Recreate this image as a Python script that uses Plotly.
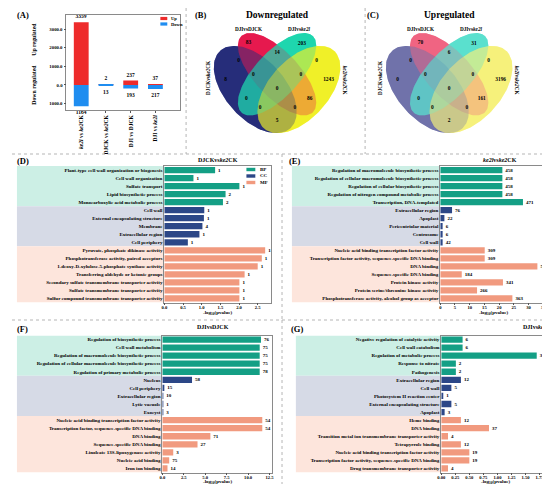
import numpy as np
import plotly.graph_objects as go

W, H = 550, 484
FONT = 'Liberation Serif'

# ---------------- data ----------------
# (A) number of DEGs
deg_groups = ['<i>ke2l</i> vs <i>ke2</i>CK', 'DJCK vs <i>ke2</i>CK', 'DJI vs DJCK', 'DJI vs <i>ke2l</i>']
deg_up = [3359, 2, 237, 37]
deg_down = [1134, 13, 193, 217]

# (B)/(C) venn
venn_sets = ['DJCKvs<i>ke2</i>CK', 'DJIvsDJCK', 'DJIvs<i>ke2l</i>', '<i>ke2l</i>vs<i>ke2</i>CK']
venn_regions = ['A', 'B', 'C', 'D', 'AB', 'BC', 'CD', 'ABC', 'BCD', 'ABCD', 'AC', 'BD', 'ACD', 'ABD', 'AD']
venn_down = [8, 83, 203, 1243, 0, 14, 0, 0, 0, 0, 0, 86, 0, 0, 5]
venn_up = [0, 70, 31, 3196, 0, 6, 0, 0, 0, 0, 0, 161, 0, 0, 2]

# (D)-(G) GO enrichment, 5 BP / 5 CC / 7 MF terms each
go_groups = ['BP'] * 5 + ['CC'] * 5 + ['MF'] * 7

d_terms = ['Plant-type cell wall organization or biogenesis', 'Cell wall organization', 'Sulfate transport',
           'Lipid biosynthetic process', 'Monocarboxylic acid metabolic process',
           'Cell wall', 'External encapsulating structure', 'Membrane', 'Extracellular region', 'Cell periphery',
           'Pyruvate, phosphate dikinase activity', 'Phosphotransferase activity, paired acceptors',
           '1-deoxy-D-xylulose-5-phosphate synthase activity', 'Transferring aldehyde or ketonic groups',
           'Secondary sulfate transmembrane transporter activity', 'Sulfate transmembrane transporter activity',
           'Sulfur compound transmembrane transporter activity']
d_values = [1.36, 0.78, 2.01, 1.64, 1.57, 1.07, 1.06, 1.02, 0.94, 0.63, 2.70, 2.61, 2.50, 2.15, 2.01, 2.01, 2.01]
d_counts = [1, 1, 1, 2, 2, 1, 1, 4, 1, 1, 1, 1, 1, 1, 1, 1, 1]

e_terms = ['Regulation of macromolecule biosynthetic process',
           'Regulation of cellular macromolecule biosynthetic process',
           'Regulation of cellular biosynthetic process', 'Regulation of nitrogen compound metabolic process',
           'Transcription, DNA-templated',
           'Extracellular region', 'Apoplast', 'Pericentriolar material', 'Centrosome', 'Cell wall',
           'Nucleic acid binding transcription factor activity',
           'Transcription factor activity, sequence-specific DNA binding', 'DNA binding',
           'Sequence-specific DNA binding', 'Protein kinase activity', 'Protein serine/threonine kinase activity',
           'Phosphotransferase activity, alcohol group as acceptor']
e_values = [21.1, 21.1, 21.1, 21.1, 28.1, 4.0, 1.4, 0.8, 0.8, 0.8, 15.1, 15.1, 33.0, 7.3, 21.3, 12.5, 24.5]
e_counts = [458, 458, 458, 458, 471, 76, 22, 6, 6, 42, 309, 309, 540, 184, 341, 266, 363]

f_terms = ['Regulation of biosynthetic process', 'Cell wall metabolism',
           'Regulation of macromolecule biosynthetic process',
           'Regulation of cellular macromolecule biosynthetic process', 'Regulation of primary metabolic process',
           'Nucleus', 'Cell periphery', 'Extracellular region', 'Lytic vacuole', 'Exocyst',
           'Nucleic acid binding transcription factor activity', 'Transcription factor, sequence-specific DNA binding',
           'DNA binding', 'Sequence-specific DNA binding', 'Linoleate 13S-lipoxygenase activity',
           'Nucleic acid binding', 'Iron ion binding']
f_values = [11.5, 11.35, 11.35, 11.35, 11.35, 3.46, 0.12, 0.08, 0.08, 0.08, 11.65, 11.65, 5.6, 4.1, 1.27, 0.8, 0.6]
f_counts = [76, 75, 75, 75, 78, 58, 15, 10, 1, 3, 54, 54, 71, 27, 3, 75, 14]

g_terms = ['Negative regulation of catalytic activity', 'Cell wall catabolism', 'Regulation of metabolic process',
           'Response to nitrate', 'Pathogenesis',
           'Extracellular region', 'Cell wall', 'Photosystem II reaction center', 'External encapsulating structure',
           'Apoplast', 'Heme binding', 'DNA binding', 'Transition metal ion transmembrane transporter activity',
           'Tetrapyrrole binding', 'Nucleic acid binding transcription factor activity',
           'Transcription factor activity, sequence-specific DNA binding', 'Drug transmembrane transporter activity']
g_values = [0.38, 0.38, 1.70, 0.26, 0.26, 0.35, 0.18, 0.02, 0.18, 0.06, 0.35, 0.85, 0.12, 0.35, 0.50, 0.50, 0.12]
g_counts = [6, 6, 34, 2, 2, 12, 5, 1, 5, 3, 12, 37, 4, 12, 19, 19, 4]

# ---------------- style ----------------
RED, BLUE = '#ee2b2b', '#1f8df0'
GO_COLORS = {'BP': '#149f85', 'CC': '#2c4787', 'MF': '#f19a7f'}
GO_BANDS = {'BP': '#ccefe5', 'CC': '#d6dae6', 'MF': '#fde5dc'}
VENN_DOWN_COLORS = [(38, 45, 122), (230, 25, 78), (30, 214, 174), (240, 240, 40)]
VENN_UP_COLORS = [(112, 114, 170), (240, 100, 130), (90, 224, 206), (246, 242, 124)]


def px_x(v):
    return v / W


def px_y(v):
    return 1 - v / H


def bold(size, color='black'):
    return dict(family=FONT, size=size, color=color, weight='bold')


fig = go.Figure()
annotations = []
shapes = []


def note(text, x, y, size, xanchor='center', yanchor='middle', angle=0, xref='paper', yref='paper'):
    if xref == 'paper':
        x = px_x(x)
    if yref == 'paper':
        y = px_y(y)
    annotations.append(dict(text=text, x=x, y=y, xref=xref, yref=yref, showarrow=False,
                            xanchor=xanchor, yanchor=yanchor, textangle=angle, font=bold(size)))


# ---------------- (A) ----------------
xa = list(range(len(deg_groups)))
fig.add_trace(go.Bar(x=xa, y=deg_up, width=0.6, marker=dict(color=RED, line_width=0),
                     text=deg_up, textposition='outside', textfont=bold(5.5), cliponaxis=False,
                     constraintext='none', xaxis='x', yaxis='y', showlegend=False))
fig.add_trace(go.Bar(x=xa, y=[-v for v in deg_down], width=0.6, marker=dict(color=BLUE, line_width=0),
                     text=deg_down, textposition='outside', textfont=bold(5.5), cliponaxis=False,
                     constraintext='none', xaxis='x', yaxis='y', showlegend=False))

axis_common = dict(showline=True, mirror=True, linecolor='#8a8a8a', linewidth=0.8, showgrid=False,
                   zeroline=False, ticks='outside', ticklen=2, tickwidth=0.6, tickcolor='#555')

fig.update_layout(
    xaxis=dict(domain=[px_x(55), px_x(170)], range=[-0.6, 4.0], anchor='y', tickvals=xa, ticktext=deg_groups,
               tickangle=-90, tickfont=bold(5.6), **axis_common),
    yaxis=dict(domain=[px_y(102), px_y(7)], range=[-1340, 3750], anchor='x',
               tickvals=[-1000, 0, 1000, 2000, 3000], ticktext=['1000.0', '0.0', '1000.0', '2000.0', '3000.0'],
               tickfont=bold(4.8), **axis_common),
    barmode='overlay',
)
note('Up regulated', 22, 31, 5.8, angle=-90)
note('Down regulated', 22, 77, 5.8, angle=-90)
for i, (lab, col) in enumerate([('Up', RED), ('Down', BLUE)]):
    yc = 10.5 + i * 5.5
    shapes.append(dict(type='rect', xref='paper', yref='paper', x0=px_x(150), x1=px_x(157),
                       y0=px_y(yc + 1.6), y1=px_y(yc - 1.6), fillcolor=col, line_width=0))
    note(lab, 159, yc, 4.6, xanchor='left')

# ---------------- (B) / (C) venn ----------------
ELLIPSES = [(0.35, 0.47, 0.35, 0.20, -45), (0.50, 0.57, 0.35, 0.15, -45),
            (0.50, 0.57, 0.35, 0.15, 45), (0.65, 0.47, 0.35, 0.20, 45)]
REGION_POS = {'A': (0.146, 0.532), 'B': (0.303, 0.774), 'C': (0.670, 0.767), 'D': (0.854, 0.532),
              'AB': (0.235, 0.656), 'BC': (0.5, 0.708), 'CD': (0.772, 0.656), 'ABC': (0.337, 0.564),
              'BCD': (0.663, 0.564), 'ABCD': (0.5, 0.473), 'AC': (0.289, 0.408), 'BD': (0.724, 0.408),
              'ACD': (0.384, 0.349), 'ABD': (0.622, 0.349), 'AD': (0.5, 0.264)}
t = np.linspace(0, 2 * np.pi, 160)


def ellipse_xy(cx, cy, a, b, deg):
    r = np.deg2rad(deg)
    x = cx + a * np.cos(t) * np.cos(r) - b * np.sin(t) * np.sin(r)
    y = cy + a * np.cos(t) * np.sin(r) + b * np.sin(t) * np.cos(r)
    return x, y


def add_venn(ax, counts, colors, center_px, title, letter):
    xn, yn = 'x' + ax, 'y' + ax
    # opaque base pass, then translucent pass to mix the overlaps
    passes = [(i, 1.0) for i in range(4)] + [(1, 0.5), (0, 0.5), (2, 0.5), (3, 0.35)]
    for i, alpha in passes:
        ex, ey = ellipse_xy(*ELLIPSES[i])
        r, g, b = colors[i]
        fig.add_trace(go.Scatter(x=ex, y=ey, mode='lines', fill='toself', line_width=0,
                                 fillcolor=f'rgba({r},{g},{b},{alpha})', hoverinfo='skip',
                                 showlegend=False, xaxis=xn, yaxis=yn))
    fig.add_trace(go.Scatter(x=[REGION_POS[k][0] for k in venn_regions],
                             y=[REGION_POS[k][1] for k in venn_regions],
                             mode='text', text=[str(c) for c in counts], textfont=bold(5.4),
                             hoverinfo='skip', showlegend=False, xaxis=xn, yaxis=yn))
    note(venn_sets[0], 0.024, 0.545, 5.2, angle=-90, xref=xn, yref=yn)
    note(venn_sets[1], 0.303, 0.865, 5.2, xref=xn, yref=yn)
    note(venn_sets[2], 0.650, 0.865, 5.2, xref=xn, yref=yn)
    note(venn_sets[3], 0.969, 0.532, 5.2, angle=90, xref=xn, yref=yn)
    fig.layout['xaxis' + ax] = dict(domain=[px_x(center_px - 73.5), px_x(center_px + 73.5)], range=[0, 1],
                                    visible=False, anchor=yn, fixedrange=True)
    fig.layout['yaxis' + ax] = dict(domain=[px_y(153.4), px_y(0.4)], range=[0, 1],
                                    visible=False, anchor=xn, fixedrange=True)
    note(title, center_px, 7.5, 9.5)
    note(letter, center_px - 85, 7.5, 8.5, xanchor='left')


add_venn('2', venn_down, VENN_DOWN_COLORS, 268, 'Downregulated', '(B)')
add_venn('3', venn_up, VENN_UP_COLORS, 442, 'Upregulated', '(C)')

# ---------------- (D)-(G) GO bars ----------------
panels = [
    ('4', d_terms, d_values, d_counts, (154, 262), (158, 294.5), [0, 2.86], 0.5, '.1f', 5,
     'DJCKvs<i>ke2</i>CK', 208, 152, 305),
    ('5', e_terms, e_values, e_counts, (433, 541), (158, 294.5), [0, 36.3], 5, 'd', 283,
     '<i>ke2l</i>vs<i>ke2</i>CK', 493, 152, 305),
    ('6', f_terms, f_values, f_counts, (152, 263), (327.5, 464.5), [0, 12.8], 2.5, '.1f', 5,
     'DJIvsDJCK', 203, 319, 474),
    ('7', g_terms, g_values, g_counts, (434, 543), (327.5, 464.5), [0, 1.92], 0.25, '.2f', 287,
     'DJIvs<i>ke2l</i>', 530, 319, 474),
]

for ax, terms, values, counts, xpx, ypx, xr, dt, fmt, band_left, title, tx, ty, atitle_y in panels:
    xn, yn = 'x' + ax, 'y' + ax
    for grp in ['BP', 'CC', 'MF']:
        idx = [i for i, g in enumerate(go_groups) if g == grp]
        fig.add_trace(go.Bar(y=idx, x=[values[i] for i in idx], orientation='h', width=0.78,
                             marker=dict(color=GO_COLORS[grp], line_width=0),
                             text=[counts[i] for i in idx], textposition='outside', textfont=bold(5),
                             cliponaxis=False, constraintext='none', showlegend=False,
                             xaxis=xn, yaxis=yn))
        shapes.append(dict(type='rect', xref='paper', yref=yn, x0=px_x(band_left), x1=px_x(xpx[0]),
                           y0=min(idx) - 0.5, y1=max(idx) + 0.5, fillcolor=GO_BANDS[grp],
                           line_width=0, layer='below'))
    fig.layout['xaxis' + ax] = dict(domain=[px_x(xpx[0]), px_x(xpx[1])], range=xr, anchor=yn, dtick=dt,
                                    tick0=0, tickformat=fmt, tickfont=bold(4.6), ticklabelstandoff=-2,
                                    **axis_common)
    fig.layout['yaxis' + ax] = dict(domain=[px_y(ypx[1]), px_y(ypx[0])], range=[16.5, -0.5], anchor=xn,
                                    tickvals=list(range(len(terms))), ticktext=terms, tickfont=bold(5),
                                    showline=True, mirror=True, linecolor='#8a8a8a', linewidth=0.8,
                                    showgrid=False, zeroline=False, ticks='')
    note(title, tx, ty, 6)
    note('-log<sub>10</sub>(pvalue)', (xpx[0] + xpx[1]) / 2, atitle_y, 5)

# legend of (D)
for i, grp in enumerate(['BP', 'CC', 'MF']):
    yc = 161.5 + i * 6.5
    shapes.append(dict(type='rect', xref='paper', yref='paper', x0=px_x(237), x1=px_x(246),
                       y0=px_y(yc + 1.7), y1=px_y(yc - 1.7), fillcolor=GO_COLORS[grp], line_width=0))
    note(grp, 249, yc, 5, xanchor='left')

# panel letters
for lab, x, y in [('(A)', 3, 7.5), ('(D)', 3, 153), ('(E)', 278, 153), ('(F)', 3, 321), ('(G)', 280, 321)]:
    note(lab, x, y, 8.5, xanchor='left')

# dashed separators
for x0, y0, x1, y1 in [(176, 0, 176, 146), (357, 0, 357, 146), (0, 146, W, 146),
                       (273, 146, 273, 312), (0, 312, W, 312), (273, 312, 273, H)]:
    shapes.append(dict(type='line', xref='paper', yref='paper', x0=px_x(x0), y0=px_y(y0),
                       x1=px_x(x1), y1=px_y(y1), line=dict(color='#b5b5b5', width=1, dash='dot')))

fig.update_layout(
    width=W, height=H, margin=dict(l=0, r=0, t=0, b=0),
    paper_bgcolor='white', plot_bgcolor='white',
    font=dict(family=FONT, size=6, color='black', weight='bold'),
    annotations=annotations, shapes=shapes, showlegend=False,
)

fig.write_html('out.html')
